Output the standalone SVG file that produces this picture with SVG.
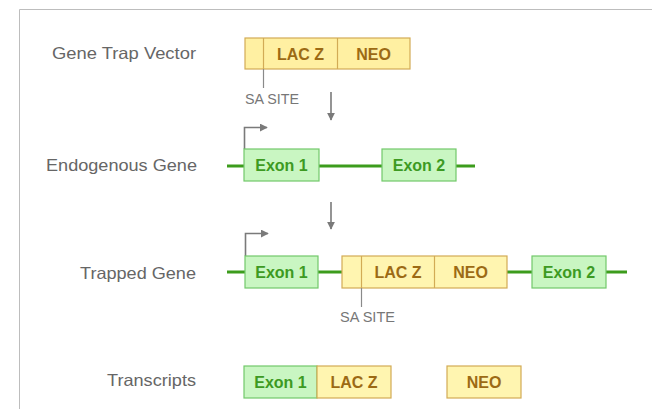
<svg xmlns="http://www.w3.org/2000/svg" width="652" height="409" viewBox="0 0 652 409">
<style>
.lbl{font-family:"Liberation Sans",Arial,sans-serif;font-size:16.5px;fill:#666}
.sa{font-family:"Liberation Sans",Arial,sans-serif;font-size:14px;fill:#777}
.ex{fill:#c9f6c2;stroke:#72c96a;stroke-width:1.2}
.ext{font-family:"Liberation Sans",Arial,sans-serif;font-size:16px;font-weight:bold;fill:#3d9a22;text-anchor:middle}
.vb{fill:#fff5b0;stroke:#d2ab55;stroke-width:1.2}
.vb1{fill:#fff0a2;stroke:#d2ab55;stroke-width:1.2}
.vd{stroke:#d2ab55;stroke-width:1.2}
.vt{font-family:"Liberation Sans",Arial,sans-serif;font-size:16px;font-weight:bold;fill:#9c6a14;text-anchor:middle}
.gl{stroke:#3c9c1c;stroke-width:3;fill:none}
.ar{stroke:#7a7a7a;stroke-width:1.6;fill:none}
.sl{stroke:#8a8a8a;stroke-width:1.2}
</style>
<defs>
<marker id="ah" viewBox="0 0 10 10" refX="9" refY="5" markerWidth="5" markerHeight="5" orient="auto" markerUnits="strokeWidth">
<path d="M0,0 L10,5 L0,10 Z" fill="#7a7a7a"/>
</marker>
</defs>
<rect width="652" height="409" fill="#fff"/>
<path d="M19.5,409 V9.5 H652" fill="none" stroke="#bdbdbd" stroke-width="1"/>

<g id="labels">
<text class="lbl" x="52" y="59" textLength="144" lengthAdjust="spacingAndGlyphs">Gene Trap Vector</text>
<text class="lbl" x="46" y="171" textLength="151" lengthAdjust="spacingAndGlyphs">Endogenous Gene</text>
<text class="lbl" x="80" y="279" textLength="116" lengthAdjust="spacingAndGlyphs">Trapped Gene</text>
<text class="lbl" x="107" y="386" textLength="89" lengthAdjust="spacingAndGlyphs">Transcripts</text>
</g>

<g id="connectors">
<line class="gl" x1="227" y1="166" x2="475" y2="166"/>
<line class="gl" x1="227" y1="272" x2="627" y2="272"/>
<path class="ar" d="M331,92 V120" marker-end="url(#ah)"/>
<path class="ar" d="M331,202 V229" marker-end="url(#ah)"/>
<path class="ar" d="M244.5,149 V127.5 H267" marker-end="url(#ah)"/>
<path class="ar" d="M245.5,256 V233.5 H268" marker-end="url(#ah)"/>
</g>

<g id="vector">
<rect class="vb1" x="245" y="38" width="165" height="31"/>
<line class="vd" x1="263.5" y1="38" x2="263.5" y2="69"/>
<line class="vd" x1="337.5" y1="38" x2="337.5" y2="69"/>
<text class="vt" x="300.5" y="60">LAC Z</text>
<text class="vt" x="373.5" y="60">NEO</text>
<line class="sl" x1="263.5" y1="69" x2="263.5" y2="88"/>
<text class="sa" x="245" y="104" textLength="54" lengthAdjust="spacingAndGlyphs">SA SITE</text>
</g>

<g id="endo-exon1">
<rect class="ex" x="244" y="149" width="75" height="32"/>
<text class="ext" x="281.5" y="171">Exon 1</text>
</g>
<g id="endo-exon2">
<rect class="ex" x="382" y="149" width="74" height="32"/>
<text class="ext" x="419" y="171">Exon 2</text>
</g>

<g id="trap-exon1">
<rect class="ex" x="245" y="256" width="73" height="32"/>
<text class="ext" x="281.5" y="278">Exon 1</text>
</g>
<g id="trap-vector">
<rect class="vb" x="342" y="256" width="165" height="32"/>
<line class="vd" x1="361.5" y1="256" x2="361.5" y2="288"/>
<line class="vd" x1="434.5" y1="256" x2="434.5" y2="288"/>
<text class="vt" x="398" y="278">LAC Z</text>
<text class="vt" x="470.5" y="278">NEO</text>
<line class="sl" x1="361.5" y1="288" x2="361.5" y2="307"/>
<text class="sa" x="340" y="322" textLength="55" lengthAdjust="spacingAndGlyphs">SA SITE</text>
</g>
<g id="trap-exon2">
<rect class="ex" x="532" y="256" width="74" height="32"/>
<text class="ext" x="569" y="278">Exon 2</text>
</g>

<g id="transcript1">
<rect class="ex" x="244" y="366" width="73" height="32"/>
<text class="ext" x="280.5" y="388">Exon 1</text>
<rect class="vb" x="317" y="366" width="74" height="32"/>
<text class="vt" x="354" y="388">LAC Z</text>
</g>
<g id="transcript2">
<rect class="vb" x="447" y="366" width="74" height="32"/>
<text class="vt" x="484" y="388">NEO</text>
</g>
</svg>
